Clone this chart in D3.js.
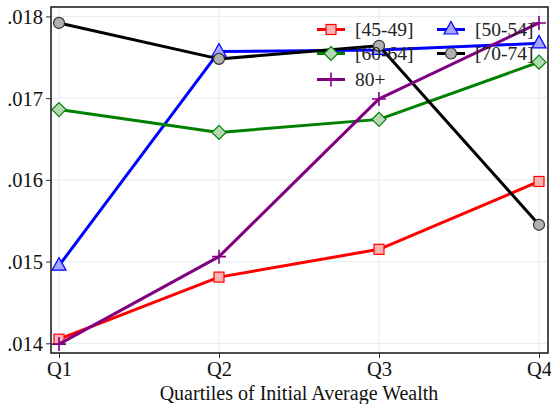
<!DOCTYPE html>
<html>
<head>
<meta charset="utf-8">
<script src="https://cdn.jsdelivr.net/npm/d3@7"></script>
<style>
  html, body { margin: 0; padding: 0; background: #fff; }
  svg { display: block; }
  svg text { font-family: "Liberation Serif", "DejaVu Serif", serif; }
</style>
</head>
<body>
<svg id="chart" width="551" height="404"></svg>
<script>
// Quartile categories on the x axis
const quartiles = ["Q1", "Q2", "Q3", "Q4"];

// One value per quartile for each age group
const age45_49 = [0.01405, 0.01481, 0.01515, 0.01598];
const age50_54 = [0.01495, 0.01757, 0.01759, 0.01767];
const age60_64 = [0.01686, 0.01658, 0.01674, 0.01744];
const age70_74 = [0.01792, 0.01748, 0.01764, 0.01545];
const age80plus = [0.01399, 0.01506, 0.01699, 0.01792];

// Y tick values and their labels
const yTicks = [0.014, 0.015, 0.016, 0.017, 0.018];
const yTickLabels = [".014", ".015", ".016", ".017", ".018"];

const seriesNames = ["[45-49]", "[50-54]", "[60-64]", "[70-74]", "80+"];

const series = [
  { name: seriesNames[0], values: age45_49, color: "#ff0000", marker: "square",   fill: "#f9b3b3", mstroke: "#ff0000" },
  { name: seriesNames[1], values: age50_54, color: "#0000ff", marker: "triangle", fill: "#a6a6ff", mstroke: "#0000ff" },
  { name: seriesNames[2], values: age60_64, color: "#008000", marker: "diamond",  fill: "#b3d9b3", mstroke: "#008000" },
  { name: seriesNames[3], values: age70_74, color: "#000000", marker: "circle",   fill: "#b0b0b0", mstroke: "#333333" },
  { name: seriesNames[4], values: age80plus, color: "#800080", marker: "plus",    fill: "none",    mstroke: "#800080" }
];

const FONT = '"Liberation Serif", "DejaVu Serif", serif';
const svg = d3.select("#chart");

const box = { left: 51, top: 7, right: 548, bottom: 353 };

const x = d3.scalePoint().domain(quartiles).range([59, 539]);
const y = d3.scaleLinear().domain([0.014, 0.018]).range([343.3, 16.4]);

// gridlines
const grid = svg.append("g");
grid.selectAll("line.h").data(yTicks).join("line")
  .attr("x1", box.left).attr("x2", box.right)
  .attr("y1", d => y(d)).attr("y2", d => y(d))
  .attr("stroke", "#e6eff1").attr("stroke-width", 1.2);
grid.selectAll("line.v").data(quartiles).join("line")
  .attr("y1", box.top).attr("y2", box.bottom)
  .attr("x1", d => x(d)).attr("x2", d => x(d))
  .attr("stroke", "#e6eff1").attr("stroke-width", 1.2);

// axes
const yAxis = d3.axisLeft(y).tickValues(yTicks)
  .tickFormat((d, i) => yTickLabels[i]).tickSize(5).tickPadding(3);
const gy = svg.append("g").attr("transform", `translate(${box.left},0)`).call(yAxis);
gy.attr("font-family", null).attr("font-size", null);
gy.select(".domain").remove();
gy.selectAll(".tick line").attr("stroke", "#333").attr("stroke-width", 1);
gy.selectAll(".tick text").style("font-family", FONT).style("font-size", "20.5px")
  .attr("fill", "#111").attr("dy", "0.34em");

const xAxis = d3.axisBottom(x).tickSize(5).tickPadding(4);
const gx = svg.append("g").attr("transform", `translate(0,${box.bottom})`).call(xAxis);
gx.attr("font-family", null).attr("font-size", null);
gx.select(".domain").remove();
gx.selectAll(".tick line").attr("stroke", "#333").attr("stroke-width", 1);
gx.selectAll(".tick text").style("font-family", FONT).style("font-size", "20.5px")
  .attr("fill", "#111").attr("dy", "0.66em");

svg.append("text")
  .attr("x", 299).attr("y", 400)
  .attr("text-anchor", "middle")
  .style("font-family", FONT).style("font-size", "20px")
  .attr("fill", "#111")
  .text("Quartiles of Initial Average Wealth");

// marker drawing helper
function drawMarker(g, s, cx, cy) {
  if (s.marker === "square") {
    g.append("rect").attr("x", cx - 5).attr("y", cy - 5).attr("width", 10).attr("height", 10)
      .attr("fill", s.fill).attr("stroke", s.mstroke).attr("stroke-width", 1.2);
  } else if (s.marker === "triangle") {
    g.append("path").attr("d", `M${cx},${cy - 8} L${cx + 7},${cy + 4.5} L${cx - 7},${cy + 4.5} Z`)
      .attr("fill", s.fill).attr("stroke", s.mstroke).attr("stroke-width", 1.2);
  } else if (s.marker === "diamond") {
    g.append("path").attr("d", `M${cx},${cy - 7} L${cx + 7},${cy} L${cx},${cy + 7} L${cx - 7},${cy} Z`)
      .attr("fill", s.fill).attr("stroke", s.mstroke).attr("stroke-width", 1.2);
  } else if (s.marker === "circle") {
    g.append("circle").attr("cx", cx).attr("cy", cy).attr("r", 5.5)
      .attr("fill", s.fill).attr("stroke", s.mstroke).attr("stroke-width", 1.2);
  } else if (s.marker === "plus") {
    g.append("path").attr("d", `M${cx - 7},${cy} L${cx + 7},${cy} M${cx},${cy - 7} L${cx},${cy + 7}`)
      .attr("stroke", s.mstroke).attr("stroke-width", 1.6).attr("fill", "none");
  }
}

// lines and markers
const line = d3.line().x((d, i) => x(quartiles[i])).y(d => y(d));
const plot = svg.append("g");
series.forEach(s => {
  const g = plot.append("g");
  g.append("path").datum(s.values)
    .attr("d", line).attr("fill", "none")
    .attr("stroke", s.color).attr("stroke-width", 3)
    .attr("stroke-linejoin", "round");
  s.values.forEach((v, i) => drawMarker(g, s, x(quartiles[i]), y(v)));
});

// legend
const legendPos = [
  { lx: 317, ly: 29.5 }, { lx: 437, ly: 29.5 },
  { lx: 317, ly: 53.5 }, { lx: 437, ly: 53.5 },
  { lx: 317, ly: 79.5 }
];
const legend = svg.append("g");
series.forEach((s, i) => {
  const p = legendPos[i];
  const g = legend.append("g");
  g.append("line").attr("x1", p.lx).attr("x2", p.lx + 28)
    .attr("y1", p.ly).attr("y2", p.ly)
    .attr("stroke", s.color).attr("stroke-width", 3);
  drawMarker(g, s, p.lx + 14, p.ly);
  g.append("text").attr("x", p.lx + 38).attr("y", p.ly + 6.5)
    .style("font-family", FONT).style("font-size", "19.5px")
    .attr("fill", "#222").text(s.name);
});

// plot frame
svg.append("rect")
  .attr("x", box.left).attr("y", box.top)
  .attr("width", box.right - box.left).attr("height", box.bottom - box.top)
  .attr("fill", "none").attr("stroke", "#222").attr("stroke-width", 1.6);
</script>
</body>
</html>
